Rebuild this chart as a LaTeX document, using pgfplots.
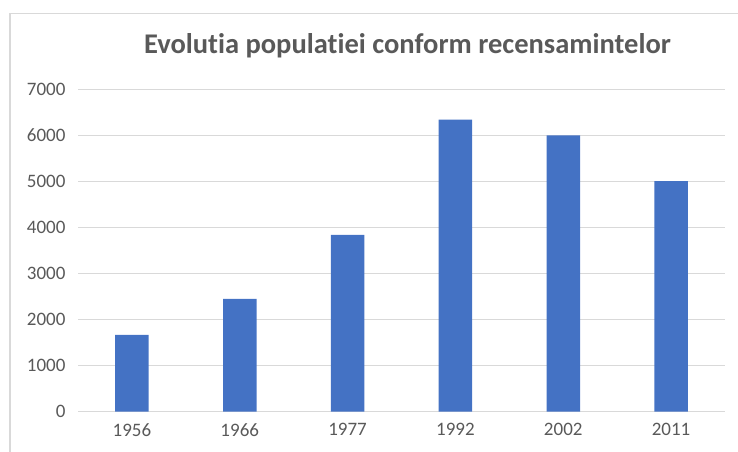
\documentclass[border=0pt]{standalone}
\usepackage{pgfplots}
\pgfplotsset{compat=1.18}
\usepackage{fontspec}
\setmainfont[Ligatures={NoCommon}]{Carlito}
\definecolor{barblue}{HTML}{4472C4}
\definecolor{gridgray}{HTML}{D9D9D9}
\definecolor{txtgray}{HTML}{595959}
\begin{document}
\begin{tikzpicture}
\path[use as bounding box] (0,0) rectangle (738bp,-452bp);
\draw[gridgray, line width=1.5bp] (10bp,-460bp) -- (10bp,-13.5bp) -- (745bp,-13.5bp);
\node[font=\fontsize{28.5bp}{32bp}\selectfont\bfseries, text=txtgray] at (407.5bp,-45.5bp) {Evolutia populatiei conform recensamintelor};
\begin{axis}[
  at={(78bp,-411.7bp)}, anchor=south west,
  scale only axis, width=647bp, height=322.4bp,
  ybar, bar width=33.5bp,
  xmin=-0.5, xmax=5.5, ymin=0, ymax=7000,
  xtick=data, xticklabels={1956,1966,1977,1992,2002,2011},
  ytick={0,1000,...,7000},
  ymajorgrids, grid style={gridgray, line width=1.2bp},
  axis line style={draw=none},
  major tick length=0pt,
  tick label style={font=\fontsize{19bp}{21bp}\selectfont, text=txtgray},
  yticklabel style={xshift=-9bp},
  xticklabel style={yshift=-8bp},
  /pgf/number format/assume math mode=true,
  scaled y ticks=false,
  yticklabel={\pgfmathprintnumber[fixed,1000 sep={}]{\tick}},
  clip=false,
]
\addplot[fill=barblue, draw=none] coordinates {(0,1667) (1,2450) (2,3840) (3,6340) (4,6000) (5,5005)};
\end{axis}
\end{tikzpicture}
\end{document}
